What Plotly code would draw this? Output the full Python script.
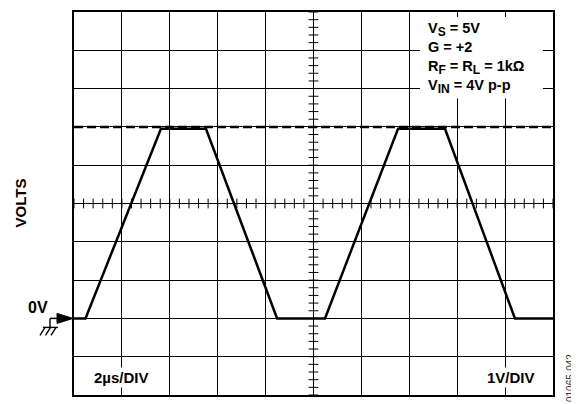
"""
Scope capture: output clipping at the rail, Vs = 5V, G = +2.
"""

import numpy as np
import plotly.graph_objects as go

# ── Data ─────────────────────────────────────────────────────────────────────
time_us = [0, 0.48, 3.63, 5.51, 8.48, 10.48, 13.53, 15.49, 18.41, 20]
volts   = [0, 0, 4.95, 4.95, 0, 0, 4.95, 4.95, 0, 0]
rail_x  = [0, 20]
rail_v  = [5.0, 5.0]

X_RANGE = [0, 20]     # 2us/DIV, 10 divisions
Y_RANGE = [-2, 8]     # 1V/DIV, 10 divisions
X_MID, Y_MID = 10, 3

SUB = '<sub><span style="font-size:12px">{}</span></sub>'
header_lines = [
    "V" + SUB.format("S") + " = 5V",
    "G = +2",
    "R" + SUB.format("F") + " = R" + SUB.format("L") + " = 1kΩ",
    "V" + SUB.format("IN") + " = 4V p-p",
]

# ── Style ────────────────────────────────────────────────────────────────────
INK  = "#000000"
FONT = "Liberation Sans, Arial, Helvetica, sans-serif"
# page body has an 8px margin, so the figure is sized to fit inside it
W, H = 571, 396
M = dict(l=66, r=26, t=2, b=9)

fig = go.Figure()

# graticule centre lines with minor ticks (5 per division)
fig.add_trace(go.Scatter(x=X_RANGE, y=[Y_MID, Y_MID], mode="lines",
                         line=dict(color=INK, width=1), hoverinfo="skip"))
fig.add_trace(go.Scatter(x=[X_MID, X_MID], y=Y_RANGE, mode="lines",
                         line=dict(color=INK, width=1), hoverinfo="skip"))
minor_x = np.arange(X_RANGE[0], X_RANGE[1] + 1e-9, 0.4)
minor_y = np.arange(Y_RANGE[0], Y_RANGE[1] + 1e-9, 0.2)
fig.add_trace(go.Scatter(
    x=minor_x, y=[Y_MID] * len(minor_x), mode="markers",
    marker=dict(symbol="line-ns", size=7, line=dict(color=INK, width=1)),
    hoverinfo="skip"))
fig.add_trace(go.Scatter(
    x=[X_MID] * len(minor_y), y=minor_y, mode="markers",
    marker=dict(symbol="line-ew", size=7, line=dict(color=INK, width=1)),
    hoverinfo="skip"))

# supply rail (dashed) and output waveform
fig.add_trace(go.Scatter(x=rail_x, y=rail_v, mode="lines",
                         line=dict(color=INK, width=2.5, dash="9px,4px")))
fig.add_trace(go.Scatter(x=time_us, y=volts, mode="lines",
                         line=dict(color=INK, width=2.5)))

axis = dict(showgrid=True, gridcolor=INK, gridwidth=1, zeroline=False,
            showline=True, linecolor=INK, linewidth=2, mirror=True,
            showticklabels=False, ticks="", fixedrange=True)
fig.update_xaxes(range=X_RANGE, dtick=2, tick0=0, **axis)
fig.update_yaxes(range=Y_RANGE, dtick=1, tick0=0, **axis)

# white box behind the conditions text
fig.add_shape(type="rect", xref="x", yref="y", x0=14.45, x1=19.58, y0=5.74, y1=7.87,
              fillcolor="white", line=dict(width=0), layer="above")

# ── 0V marker: arrow + ground symbol (pixel offsets from the 0V edge) ─────────
def px_shape(kind, **kw):
    return dict(type=kind, xref="paper", yref="y", xsizemode="pixel", ysizemode="pixel",
                xanchor=0, yanchor=0, **kw)

gnd = dict(color=INK, width=1.4)
fig.add_shape(**px_shape("line", x0=-24, y0=0, x1=-14, y1=0, line=dict(color=INK, width=1.5)))
fig.add_shape(**px_shape("path", path="M-17,5 L-1,0 L-17,-5 Z", fillcolor=INK,
                         line=dict(color=INK, width=1)))
fig.add_shape(**px_shape("line", x0=-24, y0=0, x1=-24, y1=-9, line=gnd))
fig.add_shape(**px_shape("line", x0=-31, y0=-9, x1=-16, y1=-9, line=gnd))
for dx in (-29, -23.5, -18):
    fig.add_shape(**px_shape("line", x0=dx, y0=-9, x1=dx - 5, y1=-17, line=gnd))

# ── Labels ───────────────────────────────────────────────────────────────────
bold = lambda s: f"<b>{s}</b>"
lab = dict(family=FONT, size=15, color=INK)

fig.add_annotation(text=bold("VOLTS"), xref="paper", yref="paper", x=0, y=0.5,
                   xanchor="center", yanchor="middle", xshift=-54, textangle=-90,
                   showarrow=False, font=lab)
fig.add_annotation(text=bold("0V"), xref="paper", yref="y", x=0, y=0,
                   xanchor="center", yanchor="middle", xshift=-36, yshift=11,
                   showarrow=False, font=dict(family=FONT, size=16, color=INK))
fig.add_annotation(text=bold("2µs/DIV"), x=2, y=-1.55, showarrow=False, font=lab,
                   bgcolor="white", borderpad=1)
fig.add_annotation(text=bold("1V/DIV"), x=19.35, y=-1.55, xanchor="right",
                   showarrow=False, font=lab, bgcolor="white", borderpad=1)
fig.add_annotation(text="<br>".join(bold(s) for s in header_lines),
                   x=14.7, y=7.85, xanchor="left", yanchor="top", align="left",
                   showarrow=False, font=dict(family=FONT, size=14.5, color=INK))
fig.add_annotation(text="01065-042", xref="paper", yref="paper", x=1, y=0,
                   xanchor="center", yanchor="middle", xshift=17, yshift=17,
                   textangle=-90, showarrow=False,
                   font=dict(family=FONT, size=10, color="#333333"))

fig.update_layout(
    width=W, height=H, margin=M, showlegend=False,
    paper_bgcolor="white", plot_bgcolor="white",
)

fig.write_html("out.html")
